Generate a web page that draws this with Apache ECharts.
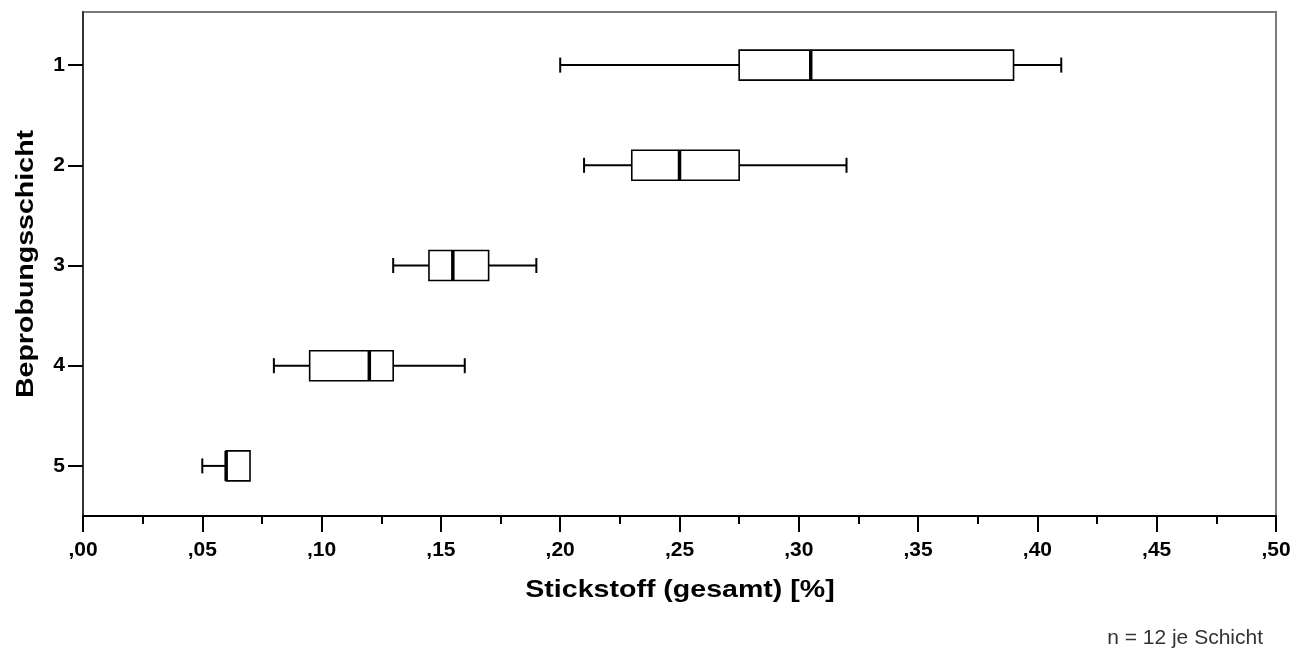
<!DOCTYPE html>
<html>
<head>
<meta charset="utf-8">
<script src="https://cdn.jsdelivr.net/npm/echarts@6/dist/echarts.min.js"></script>
<style>
html,body{margin:0;padding:0;background:#fff;}
#chart{width:1310px;height:652px;}
</style>
</head>
<body>
<div id="chart"></div>
<script>
const categories = [1, 2, 3, 4, 5];
const mins    = [0.20, 0.21, 0.13, 0.08, 0.05];
const q1s     = [0.275, 0.23, 0.145, 0.095, 0.06];
const medians = [0.305, 0.25, 0.155, 0.12, 0.06];
const q3s     = [0.39, 0.275, 0.17, 0.13, 0.07];
const maxs    = [0.41, 0.32, 0.19, 0.16, 0.07];
const xTickLabels = [',00', ',05', ',10', ',15', ',20', ',25', ',30', ',35', ',40', ',45', ',50'];
const xTitle = 'Stickstoff (gesamt) [%]';
const yTitle = 'Beprobungsschicht';
const footnote = 'n = 12 je Schicht';

const FONT = '"Liberation Sans", Arial, sans-serif';
const data = categories.map((c, i) => [c, mins[i], q1s[i], medians[i], q3s[i], maxs[i]]);

const chart = echarts.init(document.getElementById('chart'), null, {renderer: 'canvas'});

function renderBox(params, api) {
  const y = api.value(0);
  const pMin = api.coord([api.value(1), y]);
  const pQ1 = api.coord([api.value(2), y]);
  const pMed = api.coord([api.value(3), y]);
  const pQ3 = api.coord([api.value(4), y]);
  const pMax = api.coord([api.value(5), y]);
  const cy = pMin[1];
  const boxH = 30, capH = 15;
  const lineStyle = {stroke: '#000', lineWidth: 2, fill: null};
  const children = [];
  if (pQ1[0] - pMin[0] > 0.5) {
    children.push({type: 'line', shape: {x1: pMin[0], y1: cy, x2: pQ1[0], y2: cy}, style: lineStyle});
    children.push({type: 'line', shape: {x1: pMin[0], y1: cy - capH / 2, x2: pMin[0], y2: cy + capH / 2}, style: lineStyle});
  }
  if (pMax[0] - pQ3[0] > 0.5) {
    children.push({type: 'line', shape: {x1: pQ3[0], y1: cy, x2: pMax[0], y2: cy}, style: lineStyle});
    children.push({type: 'line', shape: {x1: pMax[0], y1: cy - capH / 2, x2: pMax[0], y2: cy + capH / 2}, style: lineStyle});
  }
  children.push({type: 'rect', shape: {x: pQ1[0], y: cy - boxH / 2, width: pQ3[0] - pQ1[0], height: boxH},
    style: {fill: '#fff', stroke: '#000', lineWidth: 1.6}});
  children.push({type: 'line', shape: {x1: pMed[0], y1: cy - boxH / 2, x2: pMed[0], y2: cy + boxH / 2},
    style: {stroke: '#000', lineWidth: 3.5}});
  return {type: 'group', children: children};
}

chart.setOption({
  animation: false,
  backgroundColor: '#fff',
  grid: {left: 83, right: 34, top: 12, bottom: 136, show: true, borderColor: '#7a7a7a', borderWidth: 2, backgroundColor: 'transparent'},
  xAxis: {
    type: 'value', min: 0, max: 0.5, interval: 0.05,
    axisLine: {show: true, lineStyle: {color: '#000', width: 2}},
    axisTick: {show: true, length: 16, lineStyle: {color: '#000', width: 2}},
    minorTick: {show: true, splitNumber: 2, length: 8, lineStyle: {color: '#000', width: 2}},
    splitLine: {show: false},
    axisLabel: {
      fontFamily: FONT, fontSize: 21, fontWeight: 'bold', color: '#000', margin: 24,
      formatter: function (v) { return xTickLabels[Math.round(v / 0.05)]; }
    }
  },
  yAxis: {
    type: 'value', min: 0.47, max: 5.5, inverse: true,
    axisLine: {show: true, lineStyle: {color: '#333', width: 2}},
    axisTick: {show: true, length: 15, customValues: categories, lineStyle: {color: '#000', width: 2}},
    splitLine: {show: false},
    axisLabel: {
      customValues: categories,
      fontFamily: FONT, fontSize: 21, fontWeight: 'bold', color: '#000', margin: 18,
      formatter: function (v) { return String(v); }
    }
  },
  graphic: [
    {
      type: 'text', x: 680, y: 590, scaleX: 1.19,
      style: {text: xTitle, fontFamily: FONT, fontSize: 24, fontWeight: 'bold', fill: '#000',
        textAlign: 'center', textVerticalAlign: 'middle'}
    },
    {
      type: 'text', x: 26, y: 264, rotation: Math.PI / 2, scaleX: 1.19,
      style: {text: yTitle, fontFamily: FONT, fontSize: 24, fontWeight: 'bold', fill: '#000',
        textAlign: 'center', textVerticalAlign: 'middle'}
    },
    {
      type: 'text', right: 47, bottom: 3,
      style: {text: footnote, fontFamily: FONT, fontSize: 21, fill: '#333'}
    }
  ],
  series: [{
    type: 'custom',
    renderItem: renderBox,
    encode: {x: [1, 2, 3, 4, 5], y: 0},
    data: data,
    clip: false
  }]
});
</script>
</body>
</html>
